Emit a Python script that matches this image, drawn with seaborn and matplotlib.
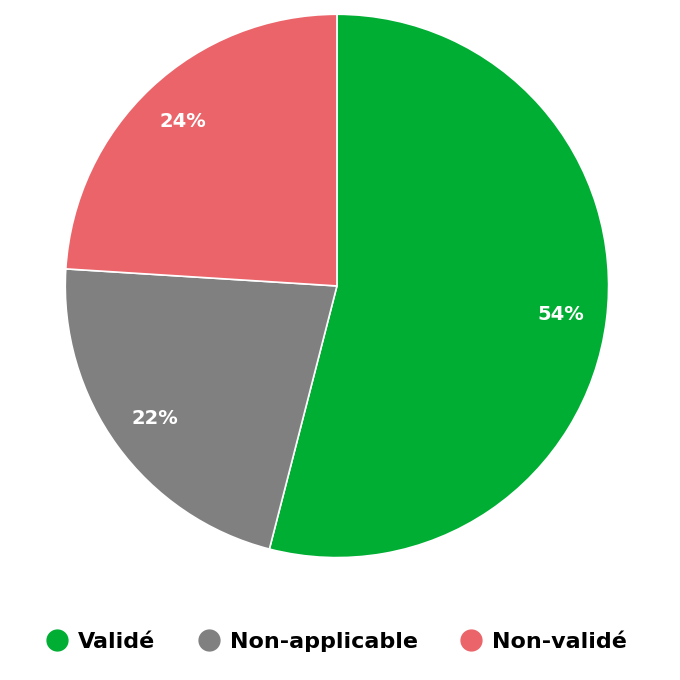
import matplotlib
matplotlib.use("Agg")
import matplotlib.pyplot as plt
from matplotlib.lines import Line2D
import seaborn as sns

categories = ["Validé", "Non-applicable", "Non-validé"]
values = [54, 22, 24]
colors = ["#00ae33", "#808080", "#eb6469"]

sns.set_style("white")
plt.rcParams['font.family'] = ['DejaVu Sans']
plt.rcParams['text.color'] = 'black'

fig = plt.figure(figsize=(6.8, 6.8), dpi=100)
ax = fig.add_axes([0.096, 0.18, 0.799, 0.799])

wedges, texts, autotexts = ax.pie(values, colors=colors, startangle=90, counterclock=False,
                                  autopct=lambda p: "%d%%" % round(p), pctdistance=0.83,
                                  wedgeprops=dict(edgecolor="white", linewidth=1.2))
for t in autotexts:
    t.set_color("white")
    t.set_fontsize(14)
    t.set_fontweight("bold")
ax.set_xlim(-1, 1)
ax.set_ylim(-1, 1)
ax.set_aspect("equal")

handles = [Line2D([], [], marker="o", linestyle="", markersize=15, markerfacecolor=c,
                  markeredgecolor=c) for c in colors]
leg = fig.legend(handles, categories, loc="center", bbox_to_anchor=(0.495, 0.056), ncol=3,
                 frameon=False, prop=dict(weight="bold", size=16), handletextpad=0.45,
                 columnspacing=1.9, handlelength=1.0)
for t in leg.get_texts():
    t.set_color("black")

fig.savefig("out.png", dpi=100, facecolor="white")
